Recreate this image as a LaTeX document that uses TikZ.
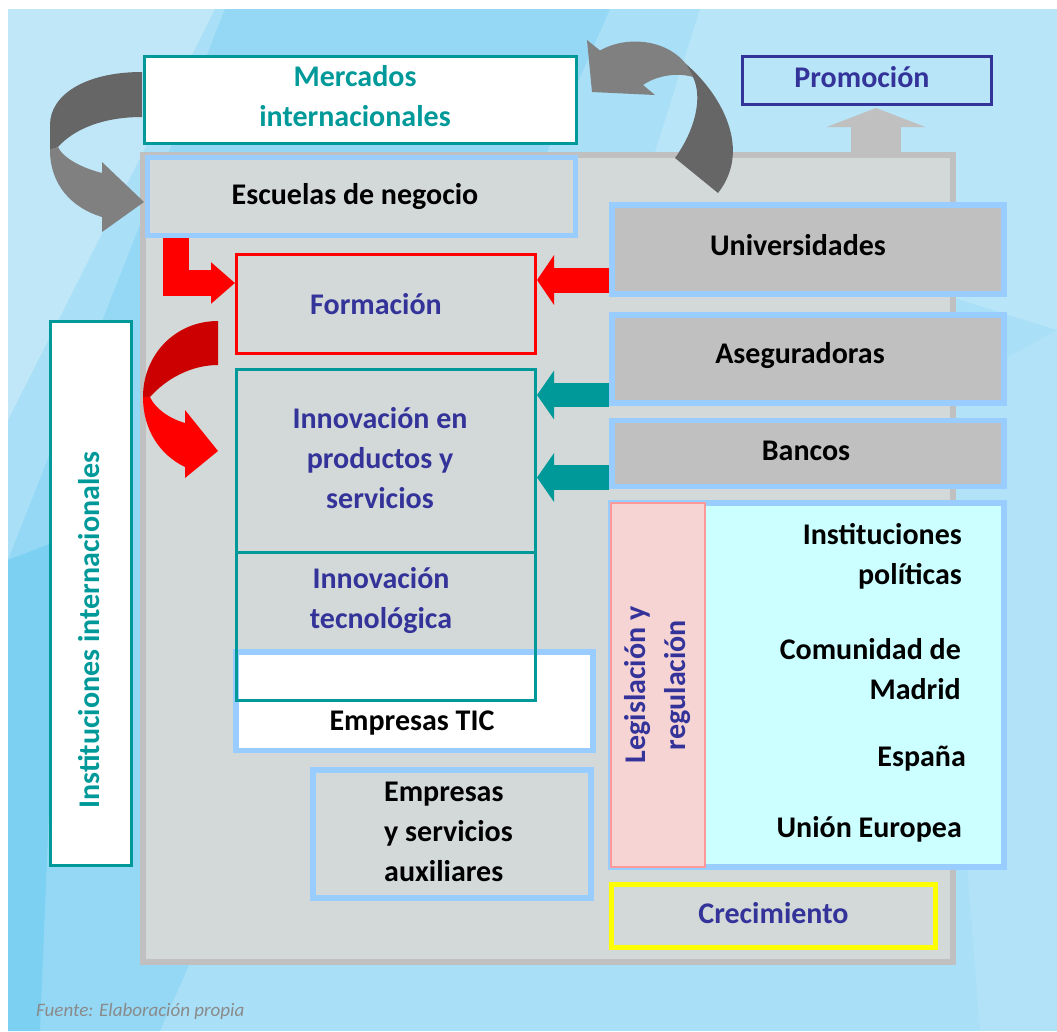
\documentclass[tikz,border=0pt]{standalone}
\usepackage{fontspec}
\setmainfont{Carlito}
\usetikzlibrary{arrows.meta,calc}
\definecolor{teal1}{HTML}{009999}
\definecolor{navy1}{HTML}{333399}
\definecolor{bord}{HTML}{99CCFF}
\definecolor{mgray}{HTML}{D3D9D9}
\definecolor{dgray}{HTML}{C0C0C0}
\definecolor{cyan1}{HTML}{CCFFFF}
\definecolor{pink1}{HTML}{F6D4D4}
\definecolor{pinkb}{HTML}{FF9999}
\definecolor{arrdark}{HTML}{666666}
\definecolor{arrlight}{HTML}{808080}
\definecolor{redd}{HTML}{CC0000}
\definecolor{redb}{HTML}{FF0000}
\definecolor{bgbase}{HTML}{A9DFF7}
\definecolor{bglight}{HTML}{C6EAF9}
\definecolor{bgdark}{HTML}{8DD6F5}
\definecolor{bgdeep}{HTML}{6CCDF3}
\definecolor{yell}{HTML}{FFFF00}
\definecolor{fuentec}{HTML}{8A8A8A}
\newcommand{\shl}[1]{\makebox[#1]{}}
\newcommand{\dep}[1]{\rule[-#1]{0pt}{#1}}
\begin{document}
\begin{tikzpicture}[x=1pt,y=-1pt,
  every node/.style={font=\fontsize{30}{40}\selectfont\bfseries, inner sep=0pt, align=center},
  bluebox/.style={draw=bord, line width=5.5pt, rectangle},
  tealbox/.style={draw=teal1, line width=3pt, rectangle},
  bigarrow/.style={line join=miter, line cap=butt},
]
\useasboundingbox (0,0) rectangle (1057,1031);
% background
\fill[white] (0,0) rectangle (1057,1031);
\fill[bgbase] (8,9) rectangle (1057,1031);
\fill[bglight, opacity=0.8] (8,9) -- (215,9) -- (8,420) -- cycle;
\fill[bgdark, opacity=0.7] (225,9) -- (610,9) -- (160,1031) -- (8,1031) -- (8,560) -- cycle;
\fill[bgdeep, opacity=0.6] (8,560) -- (60,540) -- (40,1031) -- (8,1031) -- cycle;
\fill[bglight, opacity=0.55] (700,9) -- (1057,9) -- (1057,330) -- (640,200) -- cycle;
\fill[bglight, opacity=0.3] (930,400) -- (1057,330) -- (1057,1031) -- (980,1031) -- cycle;

% main frame
\node[draw=dgray, fill=mgray, line width=6pt, minimum width=810pt, minimum height=807pt] (frame) at (548,558.5) {};

% promotion box and up arrow
\node[draw=navy1, line width=3pt, minimum width=249pt, minimum height=48pt, text=navy1] (promo) at (867,80.5) {Promoción\shl{10pt}\dep{8pt}};
\draw[dgray, bigarrow, line width=50pt, -{Triangle[width=98pt,length=19pt]}, shorten >=2pt] (frame.north -| 876,0) -- (promo.south -| 876,0);

% left grey curved arrow
\fill[arrdark] (142,72) .. controls (85,72) and (50,95) .. (50,125) -- (50,150) -- (58,147) .. controls (75,128) and (105,117) .. (142,117) -- cycle;
\fill[arrlight] (50,150) .. controls (50,185) and (72,208) .. (102,217) -- (102,232) -- (144,202) -- (102,162) -- (102,173) .. controls (82,168) and (63,158) .. (58,147) -- cycle;

% right grey curved arrow
\fill[arrlight] (587,40) -- (600,50.5) .. controls (625,36) and (665,38) .. (686,64) -- (693,77) .. controls (676,72) and (656,76) .. (643,85) -- (655,95) -- (592,92) -- cycle;
\fill[arrdark] (686,64) .. controls (722,95) and (752,150) .. (718,193) -- (675,158) .. controls (695,130) and (703,98) .. (693,77) -- cycle;

% mercados
\node[tealbox, fill=white, minimum width=432pt, minimum height=87pt, text=teal1] (mercados) at (360.5,100) {Mercados\shl{11pt}\\internacionales\shl{11pt}\dep{8pt}};

% right-side boxes
\node[bluebox, fill=mgray, minimum width=428pt, minimum height=78pt] (escuelas) at (361.5,196.5) {Escuelas de negocio\shl{13pt}};
\node[bluebox, fill=dgray, minimum width=392pt, minimum height=89pt] (univ) at (808,249.5) {Universidades\shl{20pt}\dep{10pt}};
\node[bluebox, fill=dgray, minimum width=392pt, minimum height=88pt] (aseg) at (808,359) {Aseguradoras\shl{16pt}\dep{12pt}};
\node[bluebox, fill=dgray, minimum width=392pt, minimum height=66pt] (bancos) at (808,453.3) {Bancos\shl{4pt}\dep{6pt}};
\node[bluebox, fill=cyan1, minimum width=393pt, minimum height=364pt] (legis) at (807.5,685) {};
\node[draw=pinkb, line width=2pt, fill=pink1, rotate=90, minimum width=364pt, minimum height=94pt, text=navy1] (legtag) at (658,685) {Legislación y\\regulación};
\node[anchor=east, align=right] (instpol) at (962,556) {Instituciones\\políticas};
\node[anchor=east, align=right] (cmadrid) at (961,669.5) {Comunidad de\\Madrid};
\node[anchor=east, align=right] (espana) at (966,759) {España};
\node[anchor=east, align=right] (ue) at (962,829) {Unión Europea};
\node[draw=yell, line width=5pt, minimum width=324pt, minimum height=63pt, text=navy1] (crec) at (773.5,916) {Crecimiento\dep{6pt}};

% central boxes
\node[draw=redb, line width=3pt, minimum width=299pt, minimum height=99.5pt, text=navy1] (form) at (386,303.8) {Formación\shl{20pt}};
\node[tealbox, minimum width=299pt, minimum height=183pt, text=navy1] (innovP) at (386,461) {Innovación en\shl{12pt}\\productos y\shl{12pt}\\servicios\shl{12pt}\dep{6pt}};
\node[bluebox, fill=white, minimum width=357pt, minimum height=98.5pt] (tic) at (414.5,701) {};
\node[tealbox, minimum width=299pt, minimum height=148pt] (innovT) at (386,626.5) {};
\node[text=navy1] (innovTtext) at (381,601) {Innovación\\tecnológica};
\node (tictext) at (412,723) {Empresas TIC};
\node[bluebox, fill=mgray, minimum width=278pt, minimum height=128pt] (aux) at (452,834) {};
\node[anchor=west, align=left] (auxtext) at (384,832) {Empresas\\y servicios\\auxiliares};

% instituciones internacionales
\node[tealbox, fill=white, minimum width=81pt, minimum height=544pt] (instit) at (91,593.5) {};
\node[rotate=90, text=teal1] (institext) at (89,630) {Instituciones internacionales};

% red curved arrow
\fill[redd] (218,321) .. controls (175,321) and (143,355) .. (143,397) -- (150,397) .. controls (165,380) and (190,365) .. (218,365) -- cycle;
\fill[redb] (143,397) .. controls (143,430) and (160,455) .. (185,467) -- (185,478) -- (218,451) -- (185,410) -- (185,423) .. controls (168,418) and (155,408) .. (150,397) -- cycle;

% straight arrows
\draw[redb, bigarrow, line width=26pt, -{Triangle[width=40pt,length=24pt]}] (escuelas.south -| 176,0) |- (form.west |- 0,283);
\draw[redb, bigarrow, line width=25pt, -{Triangle[width=49pt,length=17pt]}] (univ.west |- 0,280) -- (form.east |- 0,280);
\draw[teal1, bigarrow, line width=24pt, -{Triangle[width=48pt,length=17pt]}] (aseg.west |- 0,395) -- (innovP.east |- 0,395);
\draw[teal1, bigarrow, line width=25pt, -{Triangle[width=48pt,length=17pt]}] (bancos.west |- 0,477.5) -- (innovP.east |- 0,477.5);

% source
\node[font=\fontsize{19}{20}\selectfont\itshape, text=fuentec, anchor=west] (fuente) at (36,1011) {Fuente: Elaboración propia};
\end{tikzpicture}
\end{document}
